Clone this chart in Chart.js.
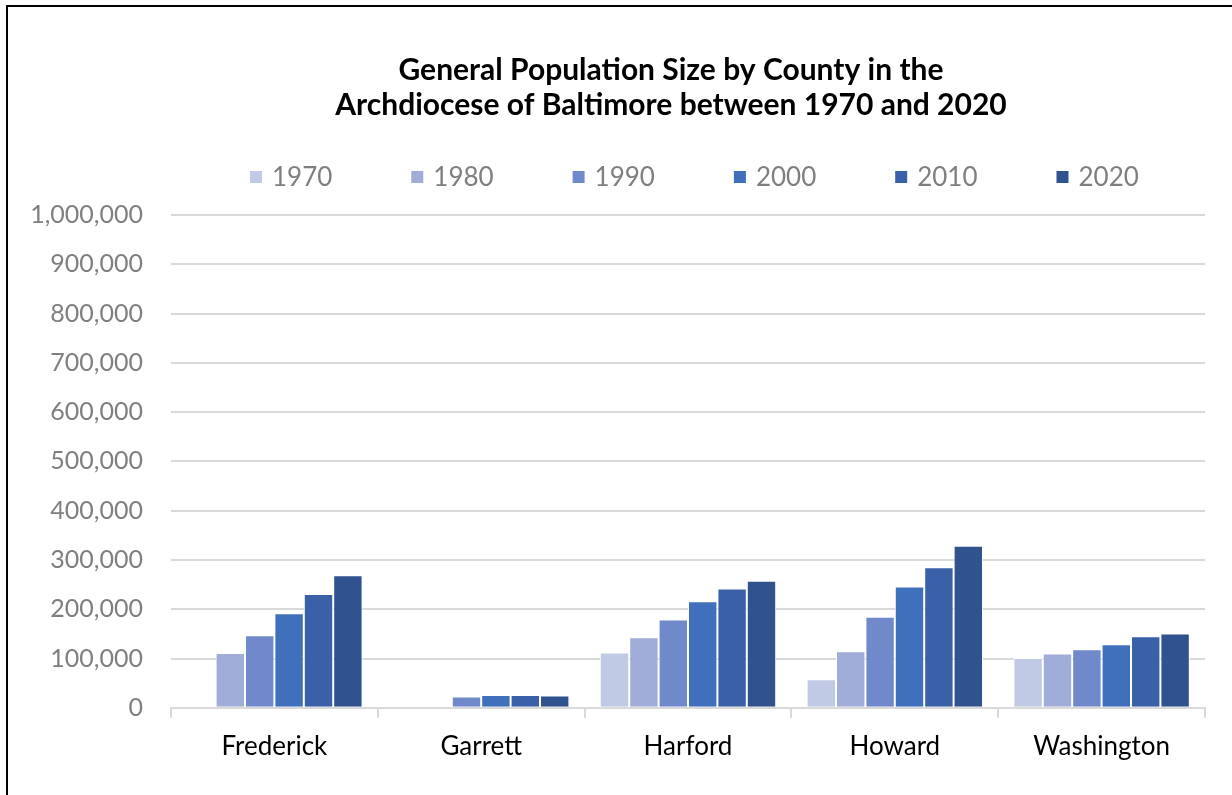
<!DOCTYPE html>
<html lang="en">
<head>
    <meta charset="UTF-8">
    <title>General Population Size by County</title>
    <script src="https://cdn.jsdelivr.net/npm/chart.js"></script>
    <style>
        body {
            margin: 0;
            overflow: hidden;
            background: white;
        }
        #frame {
            position: absolute;
            left: 6px;
            top: 5px;
            width: 1326px;
            height: 800px;
            border: 2px solid black;
        }
    </style>
</head>
<body>

<div id="frame">
    <canvas id="popChart"></canvas>
</div>

<script>
    // counties and census years
    const counties = ['Frederick', 'Garrett', 'Harford', 'Howard', 'Washington'];
    const years = ['1970', '1980', '1990', '2000', '2010', '2020'];

    // population (null = no bar shown)
    const pop1970 = [null, null, 112000, 58000, 101000];
    const pop1980 = [111000, null, 143000, 115000, 110000];
    const pop1990 = [147000, 23000, 179000, 185000, 119000];
    const pop2000 = [192000, 26000, 216000, 246000, 129000];
    const pop2010 = [231000, 26000, 242000, 285000, 145000];
    const pop2020 = [269000, 25000, 258000, 329000, 151000];

    const yTicks = [0, 100000, 200000, 300000, 400000, 500000, 600000, 700000, 800000, 900000, 1000000];

    const seriesColors = ['#C1CAE4', '#9FADD8', '#6F89CA', '#4070BB', '#3A61A8', '#30528E'];
    const allValues = [pop1970, pop1980, pop1990, pop2000, pop2010, pop2020];

    const fontFamily = 'Lato, "Open Sans", sans-serif';

    // legend drawn by hand so the spacing matches the Excel one
    const legendPlugin = {
        id: 'wideLegend',
        afterDraw(chart) {
            const ctx = chart.ctx;
            const area = chart.chartArea;
            const pitch = 161.3;
            let x = area.left + 79;
            const y = area.top - 38;
            ctx.save();
            ctx.font = '26px ' + fontFamily;
            ctx.textBaseline = 'middle';
            chart.data.datasets.forEach(ds => {
                ctx.fillStyle = ds.backgroundColor;
                ctx.fillRect(x, y - 6, 12, 12);
                ctx.fillStyle = '#7F7F7F';
                ctx.fillText(ds.label, x + 22, y + 1);
                x += pitch;
            });
            ctx.restore();
        }
    };

    const ctx = document.getElementById('popChart').getContext('2d');
    const popChart = new Chart(ctx, {
        type: 'bar',
        data: {
            labels: counties,
            datasets: years.map((yr, i) => ({
                label: yr,
                data: allValues[i],
                backgroundColor: seriesColors[i],
                borderColor: '#FFFFFF',
                borderWidth: 1,
                barPercentage: 1.0,
                categoryPercentage: 0.853
            }))
        },
        options: {
            responsive: true,
            maintainAspectRatio: false,
            animation: false,
            layout: {
                padding: { left: 0, right: 0, top: 0, bottom: 32 }
            },
            plugins: {
                legend: { display: false },
                tooltip: { enabled: false },
                title: {
                    display: true,
                    text: ['General Population Size by County in the', 'Archdiocese of Baltimore between 1970 and 2020'],
                    color: '#000000',
                    font: { family: fontFamily, size: 30, weight: 'bold', lineHeight: '35px' },
                    padding: { top: 45.5, bottom: 92.5 }
                }
            },
            scales: {
                x: {
                    grid: {
                        display: true,
                        drawOnChartArea: false,
                        drawTicks: true,
                        tickLength: 10,
                        color: '#D9D9D9',
                        lineWidth: 2
                    },
                    border: { display: true, color: '#D9D9D9', width: 2 },
                    ticks: {
                        color: '#000000',
                        padding: 13,
                        font: { family: fontFamily, size: 26 }
                    }
                },
                y: {
                    min: 0,
                    max: 1000000,
                    afterBuildTicks: scale => {
                        scale.ticks = yTicks.map(v => ({ value: v }));
                    },
                    afterFit: scale => {
                        scale.width = 163;
                    },
                    grid: {
                        color: '#D9D9D9',
                        lineWidth: 2,
                        drawTicks: false
                    },
                    border: { display: false },
                    ticks: {
                        color: '#7F7F7F',
                        padding: 28,
                        font: { family: fontFamily, size: 25 },
                        callback: v => v.toLocaleString('en-US')
                    }
                },
                // empty right-hand axis, only keeps the plot off the right edge
                spacer: {
                    position: 'right',
                    afterFit: scale => {
                        scale.width = 129;
                    },
                    grid: { display: false },
                    border: { display: false },
                    ticks: { display: false }
                }
            }
        },
        plugins: [legendPlugin]
    });
</script>

</body>
</html>
